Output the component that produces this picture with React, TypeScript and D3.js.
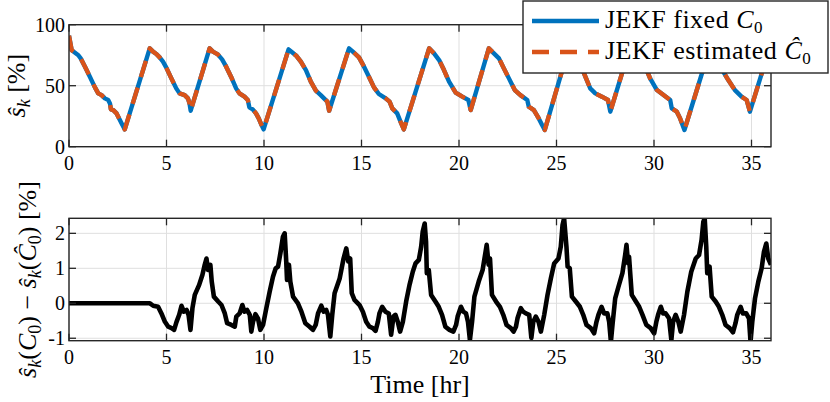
import React from 'react';
import * as d3 from 'd3';

// tick values
const timeTicks = [0, 5, 10, 15, 20, 25, 30, 35];
const socTicks = [0, 50, 100];
const diffTicks = [-1, 0, 1, 2];

// [time hr, SOC %]
const socFixed: [number, number][] = [
    [0, 91], [0.14, 79], [0.31, 77], [0.48, 75], [0.6, 72.4], [0.82, 65.6], [1.07, 57.4], [1.33, 48.6], [1.5, 43.7],
    [1.67, 42.3], [1.84, 39.6], [2.01, 38.3], [2.1, 35.5], [2.15, 30.6], [2.27, 30], [2.44, 27.3], [2.57, 23.2],
    [2.74, 17.8], [2.86, 14.2],
    [4.14, 80.6], [4.31, 77.9], [4.48, 76], [4.65, 73.2], [4.82, 69.7], [4.99, 64.8], [5.25, 56], [5.5, 47.8],
    [5.67, 43.7], [5.93, 42.3], [6.1, 39.6], [6.18, 35.5], [6.24, 29.5],
    [7.21, 80.6], [7.38, 77.9], [7.63, 75.7], [7.85, 71.6], [8.06, 65.6], [8.31, 57.4], [8.57, 47.8], [8.74, 43.7],
    [9.0, 41], [9.17, 38.3], [9.25, 32.2], [9.42, 30.6], [9.59, 27.3], [9.73, 23.2], [9.85, 18.6], [9.98, 14.2],
    [11.26, 79.8], [11.47, 77], [11.67, 74.3], [11.89, 69.7], [12.15, 62.8], [12.4, 53.3], [12.66, 45.9], [12.91, 42.3],
    [13.13, 38.8], [13.25, 36.9], [13.34, 29.5],
    [14.36, 80.6], [14.62, 77], [14.87, 73.2], [15.13, 65.6], [15.38, 57.4], [15.64, 48.6], [15.89, 43.2], [16.24, 39.6],
    [16.44, 36.9], [16.58, 31.4], [16.83, 27.3], [17.0, 20.5], [17.17, 14.2],
    [18.47, 80.6], [18.72, 76.5], [18.98, 71], [19.23, 62.8], [19.49, 53.3], [19.83, 44.3], [20.17, 41], [20.48, 38.3],
    [20.6, 30],
    [21.53, 80.6], [21.79, 76.5], [22.05, 72.4], [22.3, 64.2], [22.56, 56], [22.86, 46.4], [23.15, 42.3], [23.5, 38.3],
    [23.58, 32.8], [23.84, 30], [24.09, 23.2], [24.26, 17.8], [24.4, 13.7],
    [25.62, 80.4], [25.85, 77], [26.1, 71.5], [26.3, 64.5], [26.48, 57.4], [26.73, 47.8], [26.99, 43.7], [27.33, 41],
    [27.64, 38.3], [27.76, 28.7],
    [28.75, 80.5], [28.95, 77.5], [29.2, 74], [29.4, 69.5], [29.55, 65.6], [29.8, 56], [30.15, 46.4], [30.49, 42.3],
    [30.83, 38.3], [30.91, 31.4], [31.17, 28.7], [31.34, 23.2], [31.56, 13.7],
    [32.85, 80.3], [33.05, 77], [33.25, 73], [33.42, 67], [33.55, 61.5], [33.81, 54.6], [34.15, 46.4], [34.49, 41],
    [34.75, 38.3], [34.92, 28.7],
    [35.91, 80], [36, 79],
];
// estimated-C0 run sits on top of the fixed one at this scale
const socEstimated = socFixed;

// [time hr, difference %]
const socDiff: [number, number][] = [
    [0, 0], [4.15, 0], [4.32, -0.07], [4.57, -0.1], [4.74, -0.29], [4.92, -0.53], [5.09, -0.67], [5.26, -0.71],
    [5.39, -0.76], [5.51, -0.54], [5.65, -0.33], [5.77, -0.07], [5.89, -0.24], [6.03, -0.19], [6.13, -0.33],
    [6.23, -0.76], [6.33, -0.14], [6.45, 0.24], [6.67, 0.52], [6.84, 0.81], [6.96, 1.1], [7.05, 1.28], [7.13, 0.95],
    [7.25, 1.1], [7.32, 0.62], [7.43, 0.19], [7.65, 0.05], [7.82, -0.05], [7.99, -0.29], [8.11, -0.57], [8.33, -0.62],
    [8.5, -0.67], [8.58, -0.38], [8.75, -0.29], [8.89, -0.05], [9.0, -0.24], [9.13, -0.19], [9.27, -0.33],
    [9.35, -0.81], [9.44, -0.52], [9.56, -0.31], [9.69, -0.43], [9.81, -0.76], [9.95, -0.62], [10.12, -0.14],
    [10.29, 0.33], [10.46, 0.76], [10.6, 1.0], [10.72, 1.05], [10.84, 1.43], [10.97, 1.9], [11.06, 2.0], [11.14, 1.2],
    [11.18, 0.67], [11.28, 1.1], [11.35, 0.62], [11.49, 0.19], [11.74, 0.0], [11.92, -0.24], [12.12, -0.57],
    [12.34, -0.67], [12.51, -0.76], [12.65, -0.62], [12.77, -0.29], [12.94, -0.07], [13.06, -0.24], [13.19, -0.19],
    [13.28, -0.33], [13.4, -0.95], [13.5, -0.33], [13.62, 0.29], [13.88, 0.71], [14.08, 1.28], [14.22, 1.57],
    [14.32, 1.2], [14.42, 1.28], [14.5, 0.29], [14.64, 0.1], [14.9, -0.05], [15.07, -0.24], [15.24, -0.53],
    [15.41, -0.67], [15.58, -0.71], [15.72, -0.79], [15.84, -0.53], [15.92, -0.29], [16.06, -0.1], [16.23, -0.24],
    [16.4, -0.29], [16.52, -0.9], [16.64, -0.38], [16.74, -0.33], [16.86, -0.53], [16.98, -0.81], [17.12, -0.53],
    [17.29, 0.05], [17.46, 0.52], [17.63, 0.9], [17.77, 1.14], [17.94, 1.24], [18.06, 1.62], [18.14, 2.05],
    [18.24, 2.28], [18.31, 1.76], [18.35, 0.86], [18.45, 0.95], [18.57, 0.24], [18.79, 0.05], [18.96, -0.1],
    [19.13, -0.33], [19.3, -0.67], [19.51, -0.76], [19.71, -0.81], [19.85, -0.62], [19.93, -0.38], [20.1, -0.1],
    [20.22, -0.24], [20.36, -0.29], [20.46, -0.53], [20.56, -1.05], [20.67, -0.53], [20.79, 0.19], [21.01, 0.62],
    [21.21, 0.95], [21.35, 1.43], [21.42, 1.67], [21.52, 1.1], [21.59, 1.28], [21.69, 0.24], [21.9, 0.05],
    [22.1, -0.1], [22.27, -0.33], [22.44, -0.62], [22.66, -0.71], [22.8, -0.81], [22.92, -0.67], [23.0, -0.43],
    [23.17, -0.14], [23.29, -0.24], [23.43, -0.29], [23.6, -0.33], [23.71, -0.99], [23.81, -0.53], [23.94, -0.38],
    [24.08, -0.53], [24.2, -0.81], [24.37, -0.33], [24.54, 0.24], [24.71, 0.71], [24.88, 1.14], [25.1, 1.28],
    [25.22, 1.62], [25.31, 2.24], [25.39, 2.43], [25.51, 1.62], [25.57, 1.05], [25.68, 1.0], [25.79, 0.19],
    [25.99, 0.05], [26.2, -0.1], [26.37, -0.33], [26.54, -0.62], [26.76, -0.71], [26.93, -0.86], [27.05, -0.53],
    [27.15, -0.33], [27.31, -0.1], [27.44, -0.29], [27.61, -0.29], [27.7, -0.53], [27.79, -1.1], [27.87, -0.62],
    [28.01, 0.14], [28.18, 0.48], [28.38, 0.86], [28.52, 1.38], [28.59, 1.67], [28.67, 1.14], [28.72, 1.33],
    [28.86, 0.24], [29.07, 0.05], [29.24, -0.1], [29.41, -0.33], [29.61, -0.62], [29.83, -0.71], [30.01, -0.86],
    [30.12, -0.53], [30.21, -0.33], [30.35, -0.1], [30.47, -0.29], [30.6, -0.29], [30.77, -0.43], [30.89, -1.05],
    [30.98, -0.53], [31.11, -0.33], [31.25, -0.53], [31.37, -0.81], [31.54, -0.33], [31.71, 0.33], [31.91, 0.9],
    [32.14, 1.28], [32.31, 1.38], [32.44, 1.81], [32.53, 2.33], [32.6, 2.43], [32.68, 1.62], [32.73, 0.86],
    [32.85, 1.05], [32.96, 0.19], [33.16, 0.05], [33.33, -0.1], [33.5, -0.33], [33.67, -0.62], [33.88, -0.71],
    [34.05, -0.83], [34.18, -0.57], [34.27, -0.33], [34.44, -0.1], [34.56, -0.29], [34.73, -0.29], [34.87, -0.43],
    [34.95, -1.1], [35.04, -0.53], [35.18, 0.14], [35.35, 0.62], [35.52, 1.0], [35.64, 1.48], [35.76, 1.71],
    [35.86, 1.28], [36.0, 1.1],
];

const W = 830;
const H = 402;
const FONT = "'Liberation Serif', 'Times New Roman', serif";
const AX = '#262626';
const GRID = '#dfdfdf';
const BLUE = '#0072BD';
const ORANGE = '#D95319';
const TICK = 7;

const xLeft = 69;
const xRight = 771;
const top1 = { y0: 24.7, y1: 146.7 };
const top2 = { y0: 218.3, y1: 340.7 };

const xScale = d3.scaleLinear().domain([0, 36]).range([xLeft, xRight]);
const ySoc = d3.scaleLinear().domain([0, 100]).range([top1.y1, top1.y0]);
const yDiff = d3.scaleLinear().domain([-1.07, 2.43]).range([top2.y1, top2.y0]);

const Panel: React.FC<{ y: d3.ScaleLinear<number, number>; yTicks: number[]; id: string; children?: React.ReactNode }> = ({ y, yTicks, id, children }) => {
    const [yb, yt] = y.range();
    return (
        <g>
            <defs>
                <clipPath id={id}>
                    <rect x={xLeft} y={yt} width={xRight - xLeft} height={yb - yt} />
                </clipPath>
            </defs>
            <rect x={xLeft} y={yt} width={xRight - xLeft} height={yb - yt} fill="#fff" />
            {/* grid */}
            {timeTicks.map(t => (
                <line key={'gx' + t} x1={xScale(t)} x2={xScale(t)} y1={yt} y2={yb} stroke={GRID} strokeWidth={1} />
            ))}
            {yTicks.map(v => (
                <line key={'gy' + v} x1={xLeft} x2={xRight} y1={y(v)} y2={y(v)} stroke={GRID} strokeWidth={1} />
            ))}
            <g clipPath={`url(#${id})`}>{children}</g>
            {/* ticks, inward on all sides */}
            {timeTicks.map(t => (
                <g key={'tx' + t} stroke={AX} strokeWidth={1.3}>
                    <line x1={xScale(t)} x2={xScale(t)} y1={yb} y2={yb - TICK} />
                    <line x1={xScale(t)} x2={xScale(t)} y1={yt} y2={yt + TICK} />
                </g>
            ))}
            {yTicks.map(v => (
                <g key={'ty' + v} stroke={AX} strokeWidth={1.3}>
                    <line x1={xLeft} x2={xLeft + TICK} y1={y(v)} y2={y(v)} />
                    <line x1={xRight} x2={xRight - TICK} y1={y(v)} y2={y(v)} />
                </g>
            ))}
            <rect x={xLeft} y={yt} width={xRight - xLeft} height={yb - yt} fill="none" stroke={AX} strokeWidth={1.4} />
            {timeTicks.map(t => (
                <text key={'lx' + t} x={xScale(t)} y={yb + 23} textAnchor="middle" fontSize={20} fill="#000">{t}</text>
            ))}
            {yTicks.map(v => (
                <text key={'ly' + v} x={xLeft - 4} y={y(v)} dy="0.35em" textAnchor="end" fontSize={20} fill="#000">{v}</text>
            ))}
        </g>
    );
};

export default function App() {
    const socLine = d3.line<[number, number]>().x(d => xScale(d[0])).y(d => ySoc(d[1]));
    const diffLine = d3.line<[number, number]>().x(d => xScale(d[0])).y(d => yDiff(d[1]));

    return (
        <svg width={W} height={H} style={{ position: 'absolute', left: 0, top: 0, background: '#fff' }} fontFamily={FONT}>
            <Panel y={ySoc} yTicks={socTicks} id="clipTop">
                <path d={socLine(socFixed) || ''} fill="none" stroke={BLUE} strokeWidth={4.4} strokeLinejoin="round" />
                <path d={socLine(socEstimated) || ''} fill="none" stroke={ORANGE} strokeWidth={4.4} strokeDasharray="17,11" strokeLinejoin="round" />
            </Panel>
            <Panel y={yDiff} yTicks={diffTicks} id="clipBot">
                <path d={diffLine(socDiff) || ''} fill="none" stroke="#000" strokeWidth={4.6} strokeLinejoin="round" />
            </Panel>

            {/* axis labels */}
            <text transform={`translate(25,${(top1.y0 + top1.y1) / 2}) rotate(-90)`} textAnchor="middle" fontSize={26} fill="#000">
                <tspan fontStyle="italic">ŝ</tspan>
                <tspan fontStyle="italic" fontSize={18} dy={5}>k</tspan>
                <tspan dy={-5}> [%]</tspan>
            </text>
            <text transform={`translate(36,${(top2.y0 + top2.y1) / 2}) rotate(-90)`} textAnchor="middle" fontSize={26} fill="#000">
                <tspan fontStyle="italic">ŝ</tspan>
                <tspan fontStyle="italic" fontSize={18} dy={5}>k</tspan>
                <tspan dy={-5}>(</tspan>
                <tspan fontStyle="italic">C</tspan>
                <tspan fontSize={18} dy={5}>0</tspan>
                <tspan dy={-5}>) − </tspan>
                <tspan fontStyle="italic">ŝ</tspan>
                <tspan fontStyle="italic" fontSize={18} dy={5}>k</tspan>
                <tspan dy={-5}>(</tspan>
                <tspan fontStyle="italic">Ĉ</tspan>
                <tspan fontSize={18} dy={5}>0</tspan>
                <tspan dy={-5}>)  [%]</tspan>
            </text>
            <text x={(xLeft + xRight) / 2} y={393} textAnchor="middle" fontSize={26} fill="#000">Time [hr]</text>

            {/* legend */}
            <rect x={523} y={1} width={305} height={72} fill="#fff" stroke={AX} strokeWidth={1.4} />
            <line x1={532} x2={599} y1={21} y2={21} stroke={BLUE} strokeWidth={4.4} />
            <line x1={532} x2={599} y1={52} y2={52} stroke={ORANGE} strokeWidth={4.4} strokeDasharray="17,11" />
            <text x={605} y={28} fontSize={26} letterSpacing={0.5} fill="#000">
                JEKF fixed <tspan fontStyle="italic">C</tspan>
                <tspan fontSize={17} dy={5}>0</tspan>
            </text>
            <text x={605} y={59} fontSize={26} letterSpacing={0.5} fill="#000">
                JEKF estimated <tspan fontStyle="italic">Ĉ</tspan>
                <tspan fontSize={17} dy={5}>0</tspan>
            </text>
        </svg>
    );
}
